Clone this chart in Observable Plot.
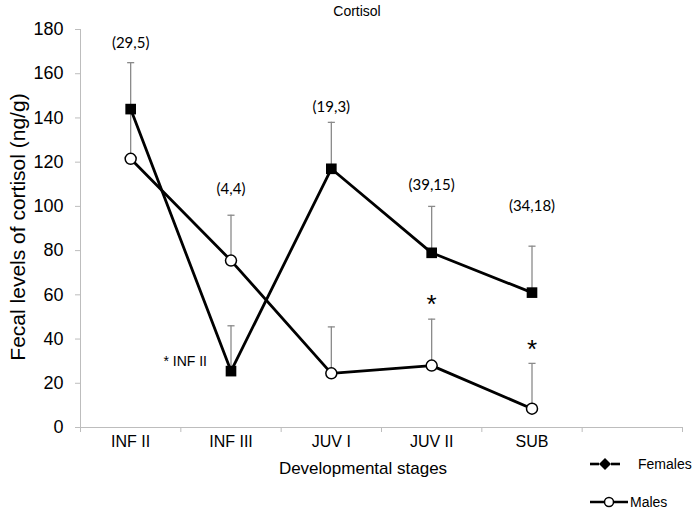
<!DOCTYPE html>
<html><head><meta charset="utf-8">
<script src="https://cdn.jsdelivr.net/npm/d3@7"></script>
<script src="https://cdn.jsdelivr.net/npm/@observablehq/plot@0.6"></script>
<style>
body{margin:0;background:#fff;font-family:"Liberation Sans",Arial,sans-serif;}
#wrap{position:relative;width:692px;height:512px;overflow:hidden;}
#wrap svg.plot{position:absolute;left:0;top:0;}
.title{position:absolute;left:0;width:714px;top:3px;text-align:center;font-size:14px;color:#000;}
.xlab{position:absolute;left:80px;width:566px;top:459px;text-align:center;font-size:17px;}
.ylab{position:absolute;left:18px;top:227px;transform:translate(-50%,-50%) rotate(-90deg);white-space:nowrap;font-size:21px;}
.legend{position:absolute;left:0;top:0;pointer-events:none;}
</style></head><body><div id="wrap"></div>
<script>
const stages = ["INF II", "INF III", "JUV I", "JUV II", "SUB"];
const females = [144, 25.5, 117, 79, 61];
const femalesUpper = [165, 46, 138, 100, 82];
const males = [121.5, 75.5, 24.5, 28, 8.5];
const malesUpper = [143, 96, 45.5, 49, 29];
const sampleSizes = ["(29,5)", "(4,4)", "(19,3)", "(39,15)", "(34,18)"];
const sampleLabelAt = [174, 108, 145, 109.5, 100];
const significant = [false, false, false, true, true];
const yTicks = [0, 20, 40, 60, 80, 100, 120, 140, 160, 180];

const pos = i => i + 0.5;
const rows = stages.map((s, i) => ({
  i, stage: s, f: females[i], fu: femalesUpper[i], m: males[i], mu: malesUpper[i],
  n: sampleSizes[i], ny: sampleLabelAt[i], sig: significant[i]
}));

const capSymbol = {draw(ctx, size) { const w = Math.sqrt(size) / 2; ctx.moveTo(-w, 0); ctx.lineTo(w, 0); }};
const axisGray = "#bdbdbd";
const errGray = "#8a8a8a";

const chart = Plot.plot({
  width: 692, height: 512,
  marginLeft: 80, marginRight: 10, marginTop: 29, marginBottom: 85,
  style: {fontFamily: "'Liberation Sans', Arial, sans-serif", background: "#fff", color: "#000"},
  x: {type: "linear", domain: [0, 6]},
  y: {domain: [0, 180]},
  marks: [
    Plot.axisY({ticks: yTicks, tickSize: 5, tickPadding: 12, stroke: axisGray, fill: "#000", fontSize: 18, label: null}),
    Plot.axisX({ticks: d3.range(0, 7), tickSize: 5, stroke: axisGray, tickFormat: () => "", label: null}),
    Plot.axisX({ticks: stages.map((s, i) => pos(i)), tickSize: 0, tickPadding: 8, fill: "#000", fontSize: 16,
      tickFormat: d => stages[Math.floor(d)], label: null}),
    Plot.ruleX([0], {stroke: axisGray, y1: 0, y2: 180}),
    Plot.ruleY([0], {stroke: axisGray, x1: 0, x2: 6}),
    // error bars
    Plot.ruleX(rows, {x: d => pos(d.i), y1: "m", y2: "mu", stroke: errGray, strokeWidth: 1.3}),
    Plot.dot(rows, {x: d => pos(d.i), y: "mu", symbol: capSymbol, r: 4, stroke: errGray, strokeWidth: 1.3, fill: "none"}),
    Plot.ruleX(rows, {x: d => pos(d.i), y1: "f", y2: "fu", stroke: errGray, strokeWidth: 1.3}),
    Plot.dot(rows, {x: d => pos(d.i), y: "fu", symbol: capSymbol, r: 4, stroke: errGray, strokeWidth: 1.3, fill: "none"}),
    // lines
    Plot.line(rows, {x: d => pos(d.i), y: "f", stroke: "#000", strokeWidth: 2.8}),
    Plot.line(rows, {x: d => pos(d.i), y: "m", stroke: "#000", strokeWidth: 2.8}),
    // markers
    Plot.dot(rows, {x: d => pos(d.i), y: "f", symbol: "square", r: 6, fill: "#000", stroke: "none"}),
    Plot.dot(rows, {x: d => pos(d.i), y: "m", symbol: "circle", r: 5.5, fill: "#fff", stroke: "#000", strokeWidth: 1.5}),
    // annotations
    Plot.text(rows, {x: d => pos(d.i), y: "ny", text: "n", fontSize: 15, fontFamily: "Lato, 'Open Sans', sans-serif", fill: "#000"}),
    Plot.text(rows.filter(d => d.sig), {x: d => pos(d.i), y: "mu", text: () => "*", dy: -14, fontSize: 26, fill: "#000"}),
    Plot.text(rows.filter(d => d.stage === "INF III"), {x: d => pos(d.i), y: "f", text: () => "* INF II",
      textAnchor: "end", dx: -24, dy: -10, fontSize: 14, fill: "#000"})
  ]
});
chart.classList.add("plot");
const wrap = document.getElementById("wrap");
wrap.appendChild(chart);
wrap.insertAdjacentHTML("beforeend", `
<div class="title">Cortisol</div>
<div class="xlab">Developmental stages</div>
<div class="ylab">Fecal levels of cortisol (ng/g)</div>
<svg class="legend" width="692" height="512">
  <g stroke="#000" stroke-width="2.6">
    <line x1="590" x2="599" y1="464" y2="464"/>
    <line x1="611" x2="620" y1="464" y2="464"/>
    <line x1="590" x2="628" y1="502" y2="502"/>
  </g>
  <path d="M605 458 L611 464 L605 470 L599 464 Z" fill="#000"/>
  <circle cx="609" cy="502" r="4.5" fill="#fff" stroke="#000" stroke-width="1.5"/>
  <text x="638" y="469" font-size="14" font-family="'Liberation Sans', Arial, sans-serif">Females</text>
  <text x="630" y="507" font-size="14" font-family="'Liberation Sans', Arial, sans-serif">Males</text>
</svg>`);
</script></body></html>
